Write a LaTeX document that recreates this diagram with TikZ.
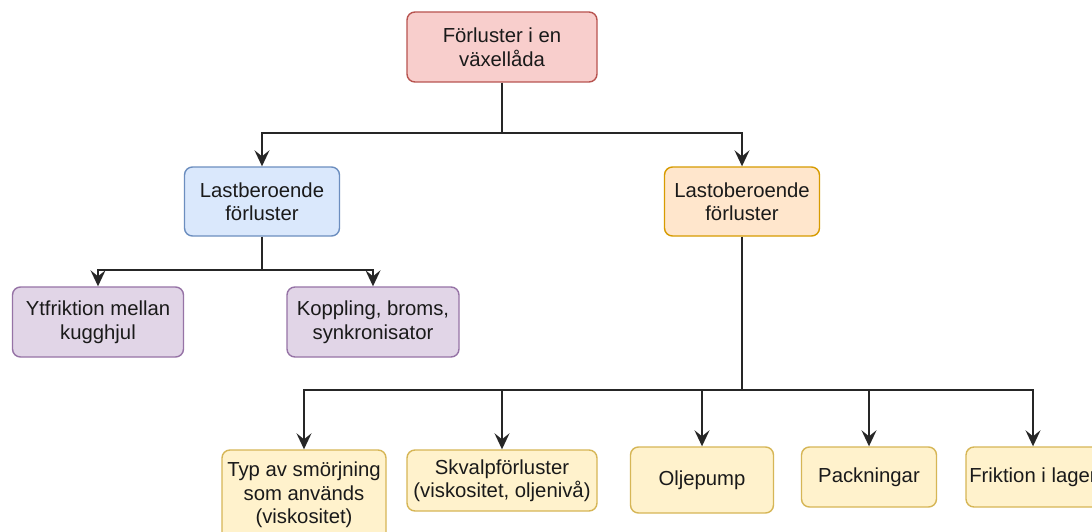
\documentclass[tikz,border=0pt]{standalone}
\usepackage{fontspec}
\setmainfont{Liberation Sans}
\usetikzlibrary{arrows.meta}
\definecolor{redF}{HTML}{F8CECC}\definecolor{redD}{HTML}{B85450}
\definecolor{blueF}{HTML}{DAE8FC}\definecolor{blueD}{HTML}{6C8EBF}
\definecolor{orF}{HTML}{FFE6CC}\definecolor{orD}{HTML}{D79B00}
\definecolor{puF}{HTML}{E1D5E7}\definecolor{puD}{HTML}{9673A6}
\definecolor{yeF}{HTML}{FFF2CC}\definecolor{yeD}{HTML}{D6B656}
\definecolor{txt}{HTML}{1A1A1A}
\tikzset{
  boxbase/.style={rectangle, rounded corners=8pt, line width=1.4pt, inner sep=0pt,
    align=center, text=txt, font=\fontsize{20.3}{23.5}\selectfont},
  redbox/.style={boxbase, draw=redD, fill=redF},
  bluebox/.style={boxbase, draw=blueD, fill=blueF},
  orbox/.style={boxbase, draw=orD, fill=orF},
  pubox/.style={boxbase, draw=puD, fill=puF},
  yebox/.style={boxbase, draw=yeD, fill=yeF},
  edge/.style={line width=1.6pt, draw=black!85, -{Stealth[length=16pt,width=15pt,inset=6pt]}},
  plain/.style={line width=1.6pt, draw=black!85}
}
\begin{document}
\begin{tikzpicture}[x=1pt,y=-1pt]
\useasboundingbox (0,0) rectangle (1092,532);
\fill[white] (0,0) rectangle (1092,532);
\clip (0,0) rectangle (1092,532);

\node[redbox, minimum width=190pt, minimum height=70pt] (root) at (502,47) {Förluster i en\\växellåda};
\node[bluebox, minimum width=155pt, minimum height=69pt] (lb) at (262,201.5) {Lastberoende\\förluster};
\node[orbox, minimum width=155pt, minimum height=69pt] (lob) at (742,201.5) {Lastoberoende\\förluster};
\node[pubox, minimum width=171pt, minimum height=70pt] (yf) at (98,322) {Ytfriktion mellan\\kugghjul};
\node[pubox, minimum width=172pt, minimum height=70pt] (kp) at (373,322) {Koppling, broms,\\synkronisator};
\node[yebox, minimum width=164pt, minimum height=90pt] (typ) at (304,495) {Typ av smörjning\\som används\\(viskositet)};
\node[yebox, minimum width=190pt, minimum height=61pt] (skv) at (502,480.5) {Skvalpförluster\\(viskositet, oljenivå)};
\node[yebox, minimum width=143pt, minimum height=66pt] (olj) at (702,480) {Oljepump};
\node[yebox, minimum width=135pt, minimum height=60pt] (pack) at (869,477) {Packningar};
\node[yebox, minimum width=134pt, minimum height=60pt] (frik) at (1033,477) {Friktion i lager};

\coordinate (j1) at (502,133);
\coordinate (j2) at (262,270);
\coordinate (j3) at (742,390);

\draw[plain] (root.south) -- (j1);
\draw[edge] (j1) -| (lb.north);
\draw[edge] (j1) -| (lob.north);

\draw[plain] (lb.south) -- (j2);
\draw[edge] (j2) -| (yf.north);
\draw[edge] (j2) -| (kp.north);

\draw[plain] (lob.south) -- (j3);
\draw[edge] (j3) -| (typ.north);
\draw[edge] (j3) -| (skv.north);
\draw[edge] (j3) -| (olj.north);
\draw[edge] (j3) -| (pack.north);
\draw[edge] (j3) -| (frik.north);
\end{tikzpicture}
\end{document}
